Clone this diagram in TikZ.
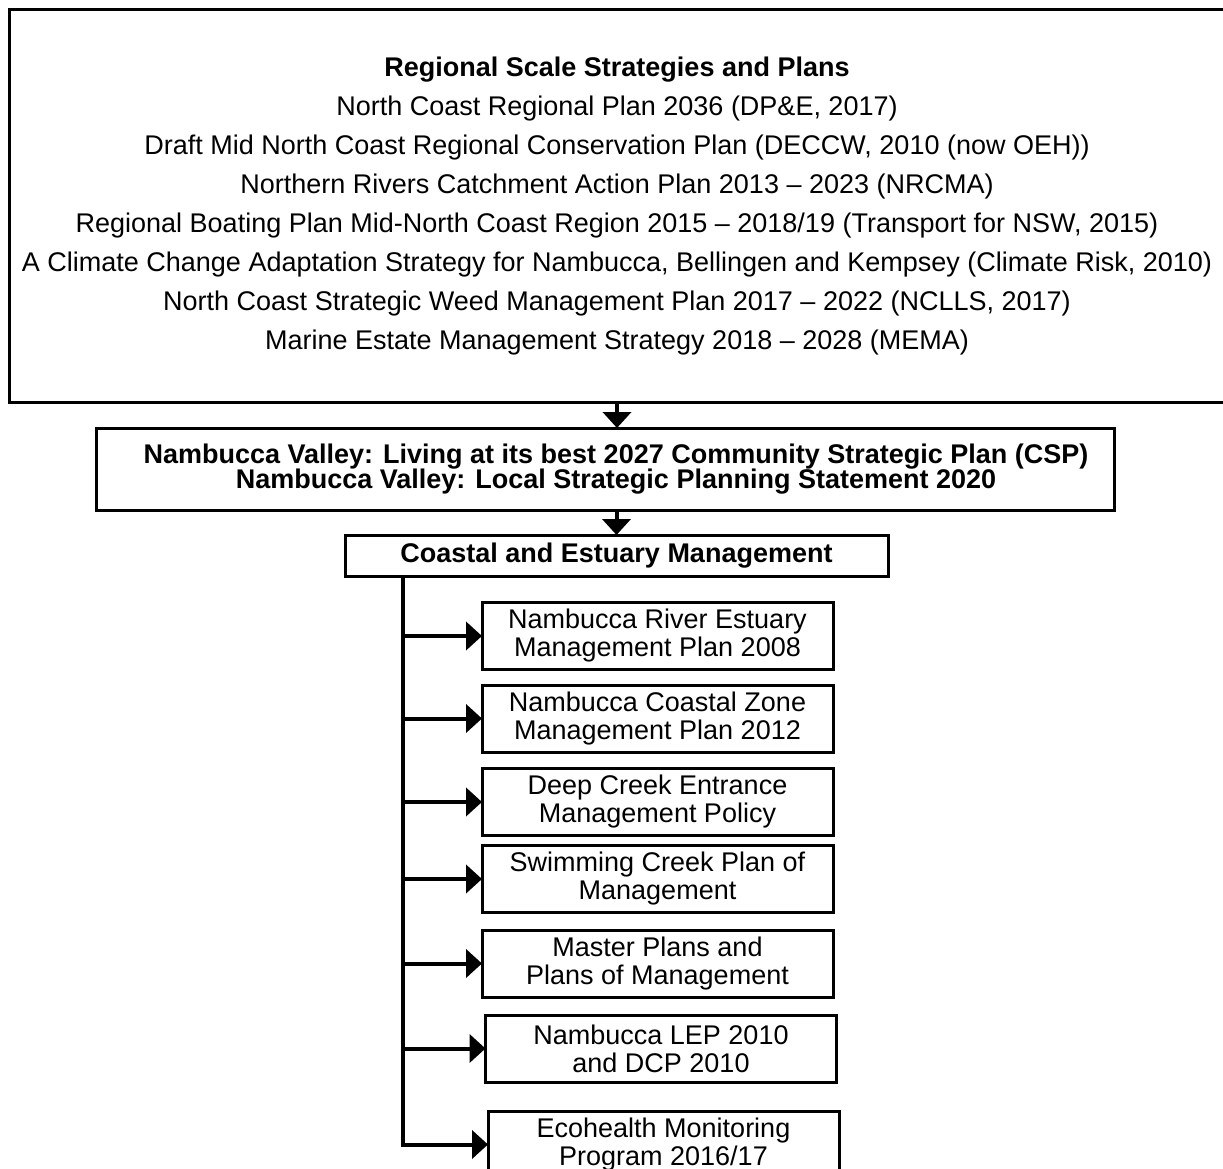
\documentclass[tikz,border=0pt]{standalone}
\usepackage{fontspec}
\setmainfont{Liberation Sans}
\usetikzlibrary{positioning,arrows.meta}

\begin{document}
\begin{tikzpicture}
[x=1pt,y=-1pt,
 every node/.style={draw=black,line width=3pt,inner sep=0pt,outer sep=0pt,align=center,font=\fontsize{27}{28}\selectfont},
 region/.style={minimum width=1216pt,minimum height=392pt,font=\fontsize{27}{39}\selectfont},
 council/.style={minimum width=1018pt,minimum height=82pt,font=\bfseries\fontsize{27}{23}\selectfont},
 topic/.style={minimum width=543pt,minimum height=41pt,font=\bfseries\fontsize{27}{28}\selectfont},
 plan/.style={minimum width=351pt,minimum height=67pt},
 link/.style={line width=4pt,-{Triangle[length=16pt,width=28pt]}}]
\path[use as bounding box,clip] (0,0) rectangle (1223,1169);
\node[region] (reg) at (617,206)
  {\textbf{Regional Scale Strategies and Plans}\\
   North Coast Regional Plan 2036 (DP\&E, 2017)\\
   Draft Mid North Coast Regional Conservation Plan (DECCW, 2010 (now OEH))\\
   Northern Rivers Catchment Action Plan 2013 – 2023 (NRCMA)\\
   Regional Boating Plan Mid-North Coast Region 2015 – 2018/19 (Transport for NSW, 2015)\\
   A Climate Change Adaptation Strategy for Nambucca, Bellingen and Kempsey (Climate Risk, 2010)\\
   North Coast Strategic Weed Management Plan 2017 – 2022 (NCLLS, 2017)\\
   Marine Estate Management Strategy 2018 – 2028 (MEMA)};
\node[council] (csp) [on grid,below left=263pt and 12pt of reg]
  {\hspace*{22pt}Nambucca Valley: Living at its best 2027 Community Strategic Plan (CSP)\\[-1pt]
   \hspace*{22pt}Nambucca Valley: Local Strategic Planning Statement 2020};
\node[topic] (cem) [on grid,below right=86.5pt and 11.5pt of csp] {Coastal and Estuary Management};
\node[plan] (m1) [on grid,below right=80.5pt and 41pt of cem]  {Nambucca River Estuary\\Management Plan 2008};
\node[plan] (m2) [on grid,below=82.5pt of m1]                   {Nambucca Coastal Zone\\Management Plan 2012};
\node[plan] (m3) [on grid,below=83.5pt of m2]                   {Deep Creek Entrance\\Management Policy};
\node[plan] (m4) [on grid,below=77pt of m3]                     {Swimming Creek Plan of\\Management};
\node[plan] (m5) [on grid,below=84.5pt of m4]                   {Master Plans and\\Plans of Management};
\node[plan] (m6) [on grid,below right=85pt and 3.5pt of m5]     {Nambucca LEP 2010\\and DCP 2010};
\node[plan] (m7) [on grid,below right=96pt and 2.5pt of m6]     {Ecohealth Monitoring\\Program 2016/17};
\coordinate (sp) at ([xshift=58pt]cem.south west);
\draw[link] (reg.south) -- (reg.south |- csp.north);
\draw[link] (csp.south -| cem.north) -- (cem.north);
\draw[link] (sp) |- (m1);
\draw[link] (sp) |- (m2);
\draw[link] (sp) |- (m3);
\draw[link] (sp) |- (m4);
\draw[link] (sp) |- (m5);
\draw[link] (sp) |- (m6);
\draw[link] (sp) |- (m7);
\end{tikzpicture}
\end{document}
